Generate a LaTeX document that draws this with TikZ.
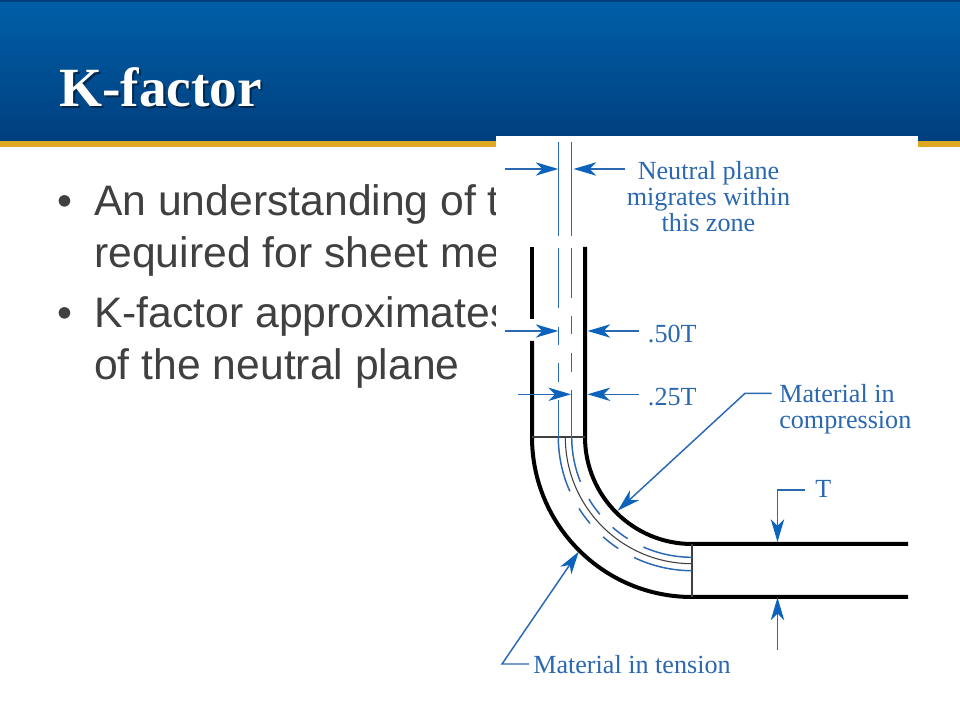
\documentclass[tikz,border=0pt]{standalone}
\usepackage{fontspec}
\setmainfont{Liberation Serif}
\newfontfamily\bodyfont{Liberation Sans}
\usetikzlibrary{arrows.meta}
\definecolor{eBlue}{HTML}{2A68B2}
\definecolor{eTip}{HTML}{0B63BB}
\definecolor{eGold}{HTML}{DFA822}
\definecolor{eHead}{HTML}{005FA8}
\definecolor{eFoot}{HTML}{003F7E}
\definecolor{eBody}{HTML}{404040}
\tikzset{h/.style={draw, black, line width=3pt}}
\tikzset{d/.style={draw, black!75, line width=.8pt}}
\tikzset{bl/.style={draw, eBlue, line width=1.1pt}}
\tikzset{ar/.style={bl, -{Stealth[length=17pt,width=10pt,inset=5pt,color=eTip]}}}
\tikzset{lab/.style={eBlue, inner sep=0pt, font=\fontsize{19.6}{19.5}\selectfont}}
\tikzset{txt/.style={eBody, inner sep=0pt, anchor=base west, align=left,
  font=\bodyfont\fontsize{32}{38.25}\selectfont}}
\begin{document}
\begin{tikzpicture}[x=.75pt,y=.75pt]
        \useasboundingbox (0,0) rectangle (960,720);
        %% header
        \fill[top color=eHead, bottom color=eFoot] (0,579) rectangle (960,720);
        \fill[eFoot] (0,718) rectangle (960,720);
        \fill[eGold] (0,573) rectangle (960,579);
        \node (shadow) at (61,611) [anchor=base west, inner sep=0pt, black, opacity=.45,
          font=\bfseries\fontsize{41.5}{41.5}\selectfont] {K-factor};
        \node (title) at (59,613) [anchor=base west, inner sep=0pt, white,
          font=\bfseries\fontsize{41.5}{41.5}\selectfont] {K-factor};
        %% bullets
        \node (b1) at (57,504) [txt] {\textbullet};
        \node (t1) at (94,504) [txt] {An understanding of t};
        \node (t2) at (94,452.5) [txt] {required for sheet me};
        \node (b2) at (57,392) [txt] {\textbullet};
        \node (t3) at (94,392) [txt] {K-factor approximates};
        \node (t4) at (94,340.5) [txt] {of the neutral plane};
        %% figure
        \fill[white] (496,40) rectangle (918,584);
        \coordinate (c) at (692,283);
        \draw [h] (532,473) -- (532,401);
        \draw [h] (532,379) -- (532,283) arc (180:270:160) -- (908,123);
        \draw [h] (585,473) -- (585,283) arc (180:270:107) -- (908,176);
        \draw [d] (532,283) -- (585,283);
        \draw [d] (692,176) -- (692,123);
        \draw [d] (565.3,283) arc (180:270:126.7);
        %% zone lines
        \draw [bl] (558.3,578) -- (558.3,484);
        \draw [bl] (571.7,578) -- (571.7,484);
        \draw [bl] (558.3,472) -- (558.3,412); \draw [bl] (558.3,393) -- (558.3,375);
        \draw [bl] (558.3,357) -- (558.3,338); \draw [bl] (558.3,320) -- (558.3,283);
        \draw [bl] (571.7,472) -- (571.7,422); \draw [bl] (571.7,404) -- (571.7,386);
        \draw [bl] (571.7,367) -- (571.7,348); \draw [bl] (571.7,330) -- (571.7,283);
        \draw [bl] (c) ++(180:133.7) arc (180:204:133.7);
        \draw [bl] (c) ++(212.3:133.7) arc (212.3:220.3:133.7);
        \draw [bl] (c) ++(228.3:133.7) arc (228.3:236.5:133.7);
        \draw [bl] (c) ++(244.3:133.7) arc (244.3:270:133.7);
        \draw [bl] (c) ++(180:120.3) arc (180:201.9:120.3);
        \draw [bl] (c) ++(211:120.3) arc (211:220:120.3);
        \draw [bl] (c) ++(228.7:120.3) arc (228.7:237.7:120.3);
        \draw [bl] (c) ++(246.2:120.3) arc (246.2:270:120.3);
        %% labels
        \node (np) at (708.5,523.5) [lab, align=center] {Neutral plane\\migrates within\\this zone};
        \node (p50) at (647.7,377) [lab, anchor=base west] {.50T};
        \node (p25) at (647.7,314) [lab, anchor=base west] {.25T};
        \node (mc) at (779,311) [lab, anchor=west, align=left] {Material in\\compression};
        \node (tt) at (815,222.5) [lab, anchor=base west] {T};
        \node (mt) at (533,46.5) [lab, anchor=base west] {Material in tension};
        %% arrows
        \coordinate (a1) at (505,551); \coordinate (a1e) at (558.3,551);
        \coordinate (a2) at (625,551); \coordinate (a2e) at (573.5,551);
        \coordinate (a3) at (505,389); \coordinate (a3e) at (558.3,389);
        \coordinate (a4) at (638.7,389); \coordinate (a4e) at (587.5,389);
        \coordinate (a5) at (518,325.7); \coordinate (a5e) at (571,325.7);
        \coordinate (a6) at (638.7,325.7); \coordinate (a6e) at (587.5,325.7);
        \coordinate (a7) at (771.7,326.7); \coordinate (a7k) at (745,326.7); \coordinate (a7e) at (617.7,209.3);
        \coordinate (a8) at (529,56); \coordinate (a8k) at (502,56); \coordinate (a8e) at (578.7,168.3);
        \coordinate (a9) at (805,230); \coordinate (a9k) at (777.5,230); \coordinate (a9e) at (777.5,178);
        \coordinate (a10) at (777.5,70); \coordinate (a10e) at (777.5,122.5);
        \draw [ar] (a1) to (a1e); \draw [ar] (a2) to (a2e);
        \draw [ar] (a3) to (a3e); \draw [ar] (a4) to (a4e);
        \draw [ar] (a5) to (a5e); \draw [ar] (a6) to (a6e);
        \draw [ar] (a7) -- (a7k) -- (a7e);
        \draw [ar] (a8) -- (a8k) -- (a8e);
        \draw [ar] (a9) -- (a9k) -- (a9e);
        \draw [ar] (a10) to (a10e);
\end{tikzpicture}
\end{document}
